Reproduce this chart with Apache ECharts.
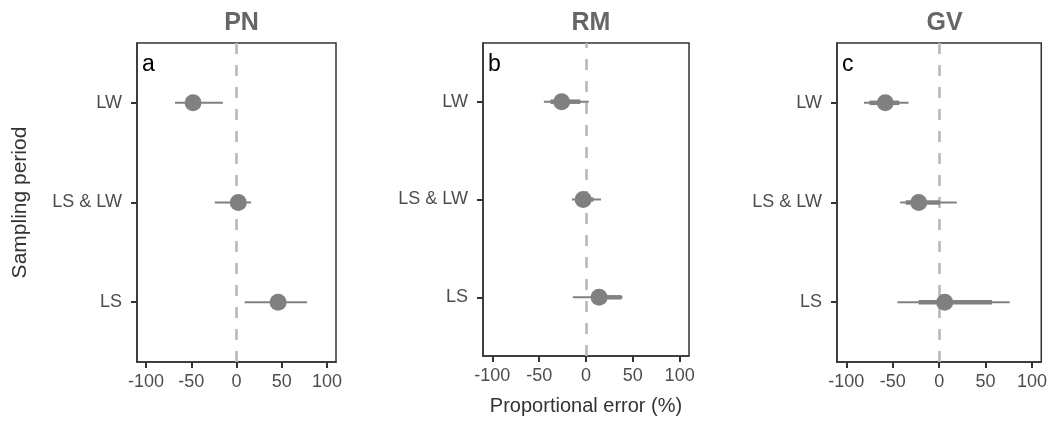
<!DOCTYPE html>
<html lang="en">
<head>
    <meta charset="UTF-8">
    <script src="https://cdn.jsdelivr.net/npm/echarts@6/dist/echarts.min.js"></script>
    <style>
        body { margin: 0; background: #fff; }
        #graph { width: 1050px; height: 422px; }
    </style>
</head>
<body>
    <section id="graph"></section>
    <script>
        // y positions 1..3 from bottom
        const periods = ['LS', 'LS & LW', 'LW'];
        const panels = ['PN', 'RM', 'GV'];
        const letters = ['a', 'b', 'c'];
        const xTicks = [-100, -50, 0, 50, 100];

        // point estimates, outer (thin) and inner (thick) intervals, order LS, LS & LW, LW
        const pnEst = [46, 2, -48];
        const pnLo = [9, -24, -68];
        const pnHi = [78, 16, -15];
        const pnLoIn = [40, -4, -54];
        const pnHiIn = [52, 8, -42];

        const rmEst = [14, -3, -26];
        const rmLo = [-14, -15, -45];
        const rmHi = [39, 16, 3];
        const rmLoIn = [9, -10, -38];
        const rmHiIn = [38, 8, -6];

        const gvEst = [6, -22, -58];
        const gvLo = [-45, -42, -81];
        const gvHi = [76, 19, -33];
        const gvLoIn = [-22, -36, -75];
        const gvHiIn = [57, 1, -43];

        const est = [pnEst, rmEst, gvEst];
        const lo = [pnLo, rmLo, gvLo];
        const hi = [pnHi, rmHi, gvHi];
        const loIn = [pnLoIn, rmLoIn, gvLoIn];
        const hiIn = [pnHiIn, rmHiIn, gvHiIn];

        const grey = '#808080';
        const font = 'Liberation Sans, Arial, sans-serif';

        const grids = [
            { left: 137, right: 714, top: 43, bottom: 60 },
            { left: 483, right: 361, top: 43, bottom: 66 },
            { left: 837, right: 8, top: 43, bottom: 60 }
        ];
        const centers = [236.5, 586, 939.5];

        const myChart = echarts.init(document.getElementById('graph'));

        const option = {
            animation: false,
            textStyle: { fontFamily: font },
            title: panels.map((p, i) => ({
                text: p,
                left: centers[i],
                top: 6,
                textAlign: 'center',
                textStyle: { fontSize: 25, fontWeight: 'bold', color: '#666', fontFamily: font }
            })),
            graphic: letters.map((l, i) => ({
                type: 'text',
                left: grids[i].left + 5,
                top: 53,
                z: 10,
                style: { text: l, fontSize: 23, fill: '#000', fontFamily: font }
            })),
            grid: grids.map(g => Object.assign({
                show: true, borderColor: '#333', borderWidth: 1.5, backgroundColor: '#fff'
            }, g)),
            xAxis: panels.map((p, i) => ({
                type: 'value',
                gridIndex: i,
                min: -110,
                max: 110,
                name: i === 1 ? 'Proportional error (%)' : '',
                nameLocation: 'middle',
                nameGap: 40,
                nameTextStyle: { fontSize: 20, color: '#333', fontFamily: font },
                axisLine: { show: true, onZero: false, lineStyle: { color: '#333', width: 1.5 } },
                axisTick: { show: true, length: 6, customValues: xTicks, lineStyle: { color: '#333', width: 2 } },
                axisLabel: { customValues: xTicks, fontSize: 18, color: '#4d4d4d', margin: 11 },
                splitLine: { show: false }
            })),
            yAxis: panels.map((p, i) => ({
                type: 'value',
                gridIndex: i,
                min: 0.4,
                max: 3.6,
                name: i === 0 ? 'Sampling period' : '',
                nameLocation: 'middle',
                nameGap: 106,
                nameRotate: 90,
                nameTextStyle: { fontSize: 21, color: '#333', fontFamily: font },
                axisLine: { show: true, onZero: false, lineStyle: { color: '#333', width: 1.5 } },
                axisTick: { show: true, length: 6, customValues: [1, 2, 3], lineStyle: { color: '#333', width: 2 } },
                axisLabel: {
                    customValues: [1, 2, 3],
                    fontSize: 18,
                    color: '#4d4d4d',
                    margin: 15,
                    formatter: v => periods[Math.round(v) - 1]
                },
                splitLine: { show: false }
            })),
            series: []
        };

        panels.forEach((p, i) => {
            const bars = periods.map((c, k) => [k + 1, lo[i][k], hi[i][k], loIn[i][k], hiIn[i][k]]);
            option.series.push({
                type: 'custom',
                xAxisIndex: i,
                yAxisIndex: i,
                data: bars,
                z: 3,
                renderItem: (params, api) => {
                    const y = api.value(0);
                    const a = api.coord([api.value(1), y]);
                    const b = api.coord([api.value(2), y]);
                    const c = api.coord([api.value(3), y]);
                    const d = api.coord([api.value(4), y]);
                    return {
                        type: 'group',
                        children: [
                            { type: 'line', shape: { x1: a[0], y1: a[1], x2: b[0], y2: b[1] }, style: { stroke: grey, lineWidth: 2 } },
                            { type: 'line', shape: { x1: c[0], y1: c[1], x2: d[0], y2: d[1] }, style: { stroke: grey, lineWidth: 4.5 } }
                        ]
                    };
                }
            });
            option.series.push({
                type: 'scatter',
                xAxisIndex: i,
                yAxisIndex: i,
                symbolSize: 17,
                z: 4,
                itemStyle: { color: grey, opacity: 1 },
                data: periods.map((c, k) => [est[i][k], k + 1]),
                markLine: {
                    silent: true,
                    symbol: 'none',
                    label: { show: false },
                    lineStyle: { color: '#b8b8b8', width: 2.6, type: [11, 11] },
                    data: [{ xAxis: 0 }],
                    z: 2
                }
            });
        });

        myChart.setOption(option);
    </script>
</body>
</html>
